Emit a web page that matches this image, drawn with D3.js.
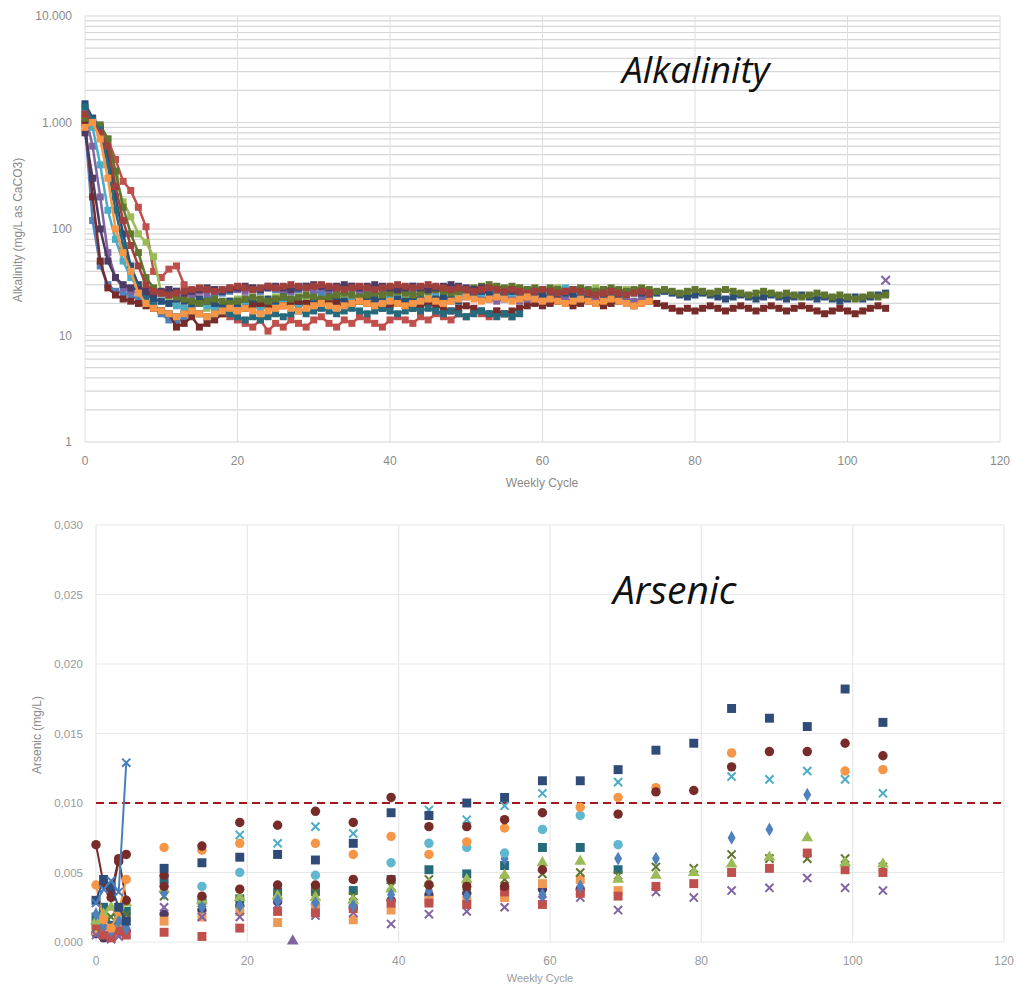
<!DOCTYPE html>
<html>
<head>
<meta charset="utf-8">
<script src="https://cdn.jsdelivr.net/npm/d3@7"></script>
<style>
  body { margin: 0; background: #fff; }
  svg { display: block; font-family: "Liberation Sans", Arial, sans-serif; }
</style>
</head>
<body>
<svg id="chart" width="1016" height="984"></svg>
<script>
// ---- alkalinity data (mg/L as CaCO3), one value per weekly cycle starting at cycle 0
var alkColors = ["#4F81BD", "#C0504D", "#9BBB59", "#8064A2", "#4BACC6",
                 "#2C4D75", "#772C2A", "#5F7530", "#276A7C", "#4D3B62", "#A0403C", "#F79646"];

var alkBlue = [950, 120, 45, 30, 26, 25, 24, 22, 20, 18, 16, 14, 13, 15, 18, 20, 22, 24, 25, 26, 27, 28, 27, 26, 28, 27, 25, 26, 27, 28, 26, 25, 27, 26, 28, 27, 26, 25, 27, 28, 26, 27, 25, 26, 27, 26, 28, 27, 26, 25, 27, 26, 28, 27, 26, 25, 24, 26, 25, 27, 26, 25, 24, 26, 25, 27, 26, 25, 24, 26, 25, 24, 26, 25, 24];
var alkRed = [1000, 950, 900, 700, 450, 280, 230, 160, 105, 40, 35, 42, 45, 30, 25, 22, 20, 18, 16, 15, 14, 13, 12, 14, 11, 13, 12, 14, 13, 12, 14, 15, 13, 12, 14, 13, 15, 14, 13, 12, 14, 15, 14, 13, 15, 14, 16, 15, 14, 16, 15, 17, 16, 15, 17, 16, 15];
var alkGreen = [1050, 950, 800, 600, 300, 180, 130, 90, 75, 55, 25, 22, 20, 18, 17, 16, 18, 19, 20, 21, 22, 21, 20, 22, 21, 23, 22, 21, 22, 23, 22, 21, 23, 22, 24, 23, 22, 21, 23, 22, 24, 23, 22, 21, 22, 23, 21, 22, 23, 24, 25, 26, 27, 28, 27, 26, 27, 28, 27, 26, 25, 27, 28, 26, 27, 25, 26, 28, 27, 26, 25, 27, 26, 25, 24];
var alkPurple = [1200, 600, 200, 60, 35, 28, 26, 25, 24, 26, 25, 27, 26, 25, 24, 26, 25, 27, 26, 28, 27, 26, 28, 27, 29, 28, 27, 26, 28, 29, 27, 28, 26, 27, 28, 29, 27, 26, 28, 27, 26, 28, 27, 29, 28, 27, 26, 27, 28, 26, 25, 24, 23, 22, 21, 22, 23, 21, 22, 23, 22, 21, 23, 22, 21, 22, 23, 22, 21, 22, 23, 22, 21, 22, 23];
var alkAqua = [1300, 900, 400, 150, 80, 50, 35, 28, 24, 22, 21, 20, 19, 18, 19, 20, 19, 18, 19, 20, 21, 20, 19, 18, 19, 20, 21, 20, 19, 20, 21, 22, 21, 20, 21, 22, 21, 20, 21, 22, 23, 22, 21, 20, 21, 22, 23, 22, 21, 22, 23, 24, 25, 26, 27, 26, 25, 26, 27, 26, 25, 26, 27, 28, 27, 26, 25, 26, 27, 26, 25, 24, 25, 26, 25];
var alkOrange = [900, 1000, 700, 300, 100, 60, 40, 25, 20, 18, 17, 16, 15, 16, 17, 16, 15, 16, 17, 18, 17, 18, 17, 16, 17, 18, 19, 18, 17, 18, 19, 20, 19, 18, 19, 20, 21, 20, 19, 20, 21, 20, 19, 20, 21, 22, 21, 20, 21, 22, 23, 22, 21, 22, 23, 22, 21, 22, 23, 22, 21, 22, 21, 20, 21, 22, 21, 20, 21, 22, 21, 20, 19, 20, 21];
var alkNavy = [1500, 1100, 900, 500, 200, 90, 45, 30, 25, 22, 21, 20, 22, 21, 20, 22, 21, 20, 19, 21, 20, 22, 21, 20, 22, 21, 23, 22, 21, 20, 22, 21, 23, 22, 21, 20, 22, 23, 22, 21, 20, 22, 21, 23, 22, 21, 22, 23, 22, 21, 24, 25, 26, 25, 24, 25, 26, 25, 24, 25, 24, 23, 24, 25, 24, 23, 24, 25, 24, 23, 24, 25, 26, 25, 24, 25, 26, 25, 24, 23, 24, 25, 24, 23, 22, 23, 24, 23, 22, 23, 24, 23, 22, 23, 24, 23, 22, 23, 22, 21, 22, 23, 22, 23, 24, 25];
var alkDarkRed = [1000, 200, 50, 28, 24, 22, 21, 20, 19, 18, 17, 16, 12, 13, 15, 12, 13, 14, 16, 18, 17, 18, 19, 20, 19, 18, 19, 20, 21, 20, 19, 20, 21, 20, 19, 20, 21, 20, 19, 18, 19, 20, 19, 18, 19, 20, 19, 18, 17, 18, 19, 18, 17, 16, 17, 16, 17, 18, 19, 20, 19, 20, 21, 20, 19, 20, 21, 20, 19, 20, 21, 20, 19, 20, 21, 20, 19, 18, 17, 18, 17, 18, 19, 18, 17, 18, 19, 18, 17, 18, 19, 18, 17, 18, 19, 18, 17, 16, 17, 18, 17, 16, 17, 18, 19, 18];
var alkDarkGreen = [1100, 1000, 950, 700, 350, 160, 90, 60, 35, 28, 25, 24, 23, 22, 21, 20, 21, 22, 21, 20, 21, 22, 23, 22, 21, 22, 23, 22, 23, 24, 23, 22, 23, 24, 25, 24, 23, 24, 25, 24, 25, 26, 25, 24, 25, 26, 27, 26, 25, 26, 27, 28, 29, 30, 29, 28, 29, 28, 27, 28, 27, 28, 27, 26, 27, 28, 27, 26, 27, 28, 27, 26, 27, 28, 27, 26, 27, 26, 25, 26, 27, 26, 25, 26, 27, 26, 25, 24, 25, 26, 25, 24, 25, 24, 23, 24, 25, 24, 23, 24, 23, 22, 23, 24, 23, 24];
var alkDarkTeal = [1400, 1050, 850, 400, 150, 70, 40, 28, 22, 19, 17, 16, 15, 16, 17, 16, 15, 16, 17, 16, 15, 14, 15, 14, 15, 16, 15, 16, 17, 16, 17, 18, 17, 16, 17, 18, 17, 16, 17, 18, 17, 16, 17, 18, 17, 18, 17, 16, 17, 16, 15, 16, 17, 16, 15, 16, 15, 16];
var alkDarkPurple = [800, 300, 100, 50, 35, 30, 28, 27, 26, 25, 26, 27, 26, 25, 26, 27, 28, 27, 26, 27, 28, 29, 28, 27, 28, 29, 28, 27, 28, 29, 30, 29, 28, 29, 30, 29, 28, 29, 30, 29, 28, 27, 28, 29, 28, 27, 28, 29, 30, 29, 28, 27, 28];
var alkBrick = [1200, 1000, 800, 600, 250, 120, 70, 45, 30, 26, 25, 24, 25, 26, 27, 28, 27, 26, 27, 28, 29, 28, 27, 28, 29, 28, 29, 30, 29, 28, 29, 30, 29, 28, 27, 28, 29, 28, 27, 28, 29, 30, 29, 28, 29, 30, 29, 28, 27, 28, 27, 26, 27, 28, 27, 26, 27, 26, 25, 26, 27, 26, 25, 26, 27, 26, 25, 24, 25, 26, 25, 24, 25, 26, 25];
var alkLastPoint = [{ cycle: 105, value: 33 }];

// orange last so its band stays on top, as in the original
var alkSeries = [alkBlue, alkRed, alkGreen, alkPurple, alkAqua,
                 alkNavy, alkDarkRed, alkDarkGreen, alkDarkTeal, alkDarkPurple, alkBrick, alkOrange];
var alkYTicks = [1, 10, 100, 1000, 10000];
var xTicks = [0, 20, 40, 60, 80, 100, 120];

// ---- arsenic data (mg/L), sampled cycles
var arsCycles = [0, 1, 2, 3, 4, 9, 14, 19, 24, 29, 34, 39, 44, 49, 54, 59, 64, 69, 74, 79, 84, 89, 94, 99, 104];
var arsNavy = [0.0030, 0.0045, 0.0040, 0.0025, 0.0015, 0.0053, 0.0057, 0.0061, 0.0063, 0.0059, 0.0071, 0.0093, 0.0091, 0.0100, 0.0104, 0.0116, 0.0116, 0.0124, 0.0138, 0.0143, 0.0168, 0.0161, 0.0155, 0.0182, 0.0158];
var arsDarkRed = [0.0070, 0.0042, 0.0032, 0.0058, 0.0063, 0.0048, 0.0069, 0.0086, 0.0084, 0.0094, 0.0086, 0.0104, 0.0083, 0.0083, 0.0088, 0.0093, null, 0.0092, 0.0108, 0.0109, 0.0126, 0.0137, 0.0137, 0.0143, 0.0134];
var arsOrange = [0.0041, 0.0016, 0.0010, 0.0022, 0.0045, 0.0068, 0.0066, 0.0071, null, 0.0071, 0.0063, 0.0076, 0.0063, 0.0072, 0.0082, null, 0.0097, 0.0104, 0.0111, null, 0.0136, null, null, 0.0123, 0.0124];
var arsAquaX = [null, null, null, null, null, null, null, 0.0077, 0.0071, 0.0083, 0.0078, null, 0.0095, 0.0088, 0.0098, 0.0107, null, 0.0115, null, null, 0.0119, 0.0117, 0.0123, 0.0117, 0.0107];
var arsBlueX = [0.0028, 0.0038, 0.0044, 0.0036, 0.0129, null, null, null, null, null, null, null, null, null, null, null, null, null, null, null, null, null, null, null, null];
var arsAquaDot = [null, null, null, null, null, null, 0.0040, 0.0050, null, 0.0048, null, 0.0057, 0.0071, 0.0068, 0.0064, 0.0081, 0.0091, 0.0070, null, null, null, null, null, null, null];
var arsBlue = [0.0020, 0.0012, 0.0008, 0.0015, 0.0010, 0.0035, 0.0025, 0.0026, 0.0030, 0.0028, 0.0026, 0.0034, 0.0037, 0.0033, 0.0060, 0.0034, 0.0040, 0.0060, 0.0060, null, 0.0075, 0.0081, 0.0106, null, null];
var arsGreen = [0.0015, 0.0020, 0.0025, 0.0018, 0.0028, 0.0038, 0.0030, 0.0032, 0.0033, 0.0032, 0.0030, 0.0038, 0.0042, 0.0045, 0.0048, 0.0057, 0.0058, 0.0045, 0.0048, 0.0050, 0.0056, 0.0061, 0.0075, 0.0057, 0.0056];
var arsRed = [0.0012, 0.0005, 0.0003, 0.0008, 0.0005, 0.0007, 0.0004, 0.0010, 0.0022, 0.0021, 0.0024, 0.0028, 0.0028, 0.0027, 0.0036, 0.0027, 0.0035, 0.0033, 0.0040, 0.0042, 0.0050, 0.0053, 0.0064, 0.0052, 0.0050];
var arsPurpleX = [0.0005, 0.0008, 0.0002, 0.0004, 0.0006, 0.0025, 0.0018, 0.0018, 0.0027, 0.0019, 0.0021, 0.0013, 0.0020, 0.0022, 0.0025, 0.0030, 0.0032, 0.0023, 0.0036, 0.0032, 0.0037, 0.0039, 0.0046, 0.0039, 0.0037];
var arsDarkGreenX = [0.0010, 0.0022, 0.0018, 0.0025, 0.0020, 0.0033, 0.0028, 0.0028, 0.0034, 0.0036, 0.0033, 0.0040, 0.0045, 0.0040, 0.0045, 0.0049, 0.0050, 0.0048, 0.0054, 0.0053, 0.0063, 0.0060, 0.0060, 0.0060, 0.0054];
var arsDarkTeal = [0.0018, 0.0025, 0.0012, 0.0020, 0.0022, 0.0045, 0.0030, 0.0031, 0.0036, 0.0037, 0.0037, 0.0045, 0.0052, 0.0049, 0.0055, 0.0068, 0.0068, 0.0052, null, null, null, null, null, null, null];
var arsDarkRed2 = [null, null, 0.0035, 0.0060, 0.0030, 0.0040, 0.0033, 0.0038, 0.0041, 0.0041, 0.0045, 0.0045, 0.0041, 0.0040, 0.0040, 0.0052, null, null, null, null, null, null, null, null, null];
var arsOrange2 = [0.0008, 0.0012, 0.0006, 0.0010, 0.0018, 0.0015, 0.0018, 0.0022, 0.0014, 0.0025, 0.0016, 0.0023, 0.0030, 0.0030, 0.0032, 0.0042, 0.0045, 0.0037, null, null, null, null, null, null, null];
var arsDarkPurple = [0.0006, 0.0003, 0.0010, 0.0012, 0.0008, 0.0020, 0.0023, 0.0026, 0.0029, 0.0027, 0.0025, 0.0030, 0.0034, 0.0035, 0.0038, 0.0038, 0.0038, null, null, null, null, null, null, null, null];
var arsTriangleLone = [{ cycle: 26, value: 0.0000 }];

var arsSeries = [
  { values: arsDarkPurple, color: "#4D3B62", shape: "circle" },
  { values: arsOrange2, color: "#EE9A55", shape: "square" },
  { values: arsDarkTeal, color: "#276A7C", shape: "square" },
  { values: arsDarkGreenX, color: "#5F7530", shape: "x" },
  { values: arsPurpleX, color: "#8064A2", shape: "x" },
  { values: arsRed, color: "#C0504D", shape: "square" },
  { values: arsGreen, color: "#9BBB59", shape: "triangle" },
  { values: arsBlue, color: "#4F81BD", shape: "diamond" },
  { values: arsDarkRed2, color: "#772C2A", shape: "circle" },
  { values: arsAquaDot, color: "#5FB8D0", shape: "circle" },
  { values: arsAquaX, color: "#4BACC6", shape: "x" },
  { values: arsOrange, color: "#F79646", shape: "circle" },
  { values: arsDarkRed, color: "#772C2A", shape: "circle" },
  { values: arsNavy, color: "#2F4B78", shape: "square" },
  { values: arsBlueX, color: "#4A7EBB", shape: "x" }
];
var arsYTicks = [0, 0.005, 0.010, 0.015, 0.020, 0.025, 0.030];
var arsLimit = 0.010;

var locale = d3.formatLocale({ decimal: ",", thousands: ".", grouping: [3], currency: ["", " €"] });
var fmtThousands = locale.format(",");
var fmt3 = locale.format(".3f");

var svg = d3.select("#chart");
svg.append("rect").attr("width", 1016).attr("height", 984).attr("fill", "#fff");

var tickColor = "#8a8a8a";

// ================= top: alkalinity =================
var topX = d3.scaleLinear().domain([0, 120]).range([85, 1000]);
var topY = d3.scaleLog().domain([1, 10000]).range([442, 16]);

var gTop = svg.append("g");

// minor + major horizontal gridlines
var gridVals = [];
[1, 10, 100, 1000].forEach(function (d) {
  for (var k = 1; k < 10; k++) gridVals.push(k * d);
});
gridVals.push(10000);

gTop.append("g").selectAll("line").data(gridVals).enter().append("line")
  .attr("x1", topX(0)).attr("x2", topX(120))
  .attr("y1", d => topY(d)).attr("y2", d => topY(d))
  .attr("stroke", "#d6d6d6").attr("stroke-width", 1.2);

gTop.append("g").selectAll("line").data(xTicks).enter().append("line")
  .attr("x1", d => topX(d)).attr("x2", d => topX(d))
  .attr("y1", topY(10000)).attr("y2", topY(1))
  .attr("stroke", "#dedede").attr("stroke-width", 1);

gTop.append("g").selectAll("text").data(alkYTicks).enter().append("text")
  .attr("x", 72).attr("y", d => topY(d)).attr("dy", "0.35em")
  .attr("text-anchor", "end").attr("font-size", 12).attr("fill", tickColor)
  .text(d => fmtThousands(d));

gTop.append("g").selectAll("text").data(xTicks).enter().append("text")
  .attr("x", d => topX(d)).attr("y", 465)
  .attr("text-anchor", "middle").attr("font-size", 12).attr("fill", tickColor)
  .text(d => d);

gTop.append("text").attr("x", 542).attr("y", 487).attr("text-anchor", "middle")
  .attr("font-size", 12).attr("fill", tickColor).text("Weekly Cycle");

gTop.append("text").attr("transform", "translate(22,230) rotate(-90)")
  .attr("text-anchor", "middle").attr("font-size", 12).attr("fill", tickColor)
  .text("Alkalinity (mg/L as CaCO3)");

var alkLine = d3.line().x((d, i) => topX(i)).y(d => topY(d));

alkSeries.forEach(function (vals, s) {
  var g = gTop.append("g");
  g.append("path").datum(vals).attr("d", alkLine)
    .attr("fill", "none").attr("stroke", alkColors[s]).attr("stroke-width", 2.5);
  g.selectAll("rect").data(vals).enter().append("rect")
    .attr("x", (d, i) => topX(i) - 3.5).attr("y", d => topY(d) - 3.5)
    .attr("width", 7).attr("height", 7).attr("fill", alkColors[s]);
});

gTop.selectAll(".lastx").data(alkLastPoint).enter().append("path")
  .attr("d", d3.symbol().type(d3.symbolX).size(50))
  .attr("transform", p => "translate(" + topX(p.cycle) + "," + topY(p.value) + ")")
  .attr("fill", "none").attr("stroke", "#8064A2").attr("stroke-width", 2);

gTop.append("text").attr("x", 622).attr("y", 83)
  .attr("font-family", "'Open Sans', sans-serif").attr("font-style", "italic")
  .attr("font-size", 37).attr("fill", "#111").text("Alkalinity");

// ================= bottom: arsenic =================
var botX = d3.scaleLinear().domain([0, 120]).range([96, 1004]);
var botY = d3.scaleLinear().domain([0, 0.030]).range([942, 525]);

var gBot = svg.append("g");

gBot.append("g").selectAll("line").data(arsYTicks).enter().append("line")
  .attr("x1", botX(0)).attr("x2", botX(120))
  .attr("y1", d => botY(d)).attr("y2", d => botY(d))
  .attr("stroke", "#e8e8e8").attr("stroke-width", 1.2);

gBot.append("g").selectAll("line").data(xTicks).enter().append("line")
  .attr("x1", d => botX(d)).attr("x2", d => botX(d))
  .attr("y1", botY(0.030)).attr("y2", botY(0))
  .attr("stroke", "#e8e8e8").attr("stroke-width", 1.2);

gBot.append("g").selectAll("text").data(arsYTicks).enter().append("text")
  .attr("x", 83).attr("y", d => botY(d)).attr("dy", "0.35em")
  .attr("text-anchor", "end").attr("font-size", 11.5).attr("fill", "#9a9a9a")
  .text(d => fmt3(d));

gBot.append("g").selectAll("text").data(xTicks).enter().append("text")
  .attr("x", d => botX(d)).attr("y", 965)
  .attr("text-anchor", "middle").attr("font-size", 12).attr("fill", "#9a9a9a")
  .text(d => d);

gBot.append("text").attr("x", 540).attr("y", 982).attr("text-anchor", "middle")
  .attr("font-size", 11).attr("fill", "#9a9a9a").text("Weekly Cycle");

gBot.append("text").attr("transform", "translate(41,735) rotate(-90)")
  .attr("text-anchor", "middle").attr("font-size", 12).attr("fill", "#8a8a8a")
  .text("Arsenic (mg/L)");

gBot.append("line")
  .attr("x1", botX(0)).attr("x2", botX(120))
  .attr("y1", botY(arsLimit)).attr("y2", botY(arsLimit))
  .attr("stroke", "#A0191E").attr("stroke-width", 2).attr("stroke-dasharray", "8,5");

var shapes = {
  square: d3.symbol().type(d3.symbolSquare).size(80),
  circle: d3.symbol().type(d3.symbolCircle).size(70),
  diamond: d3.symbol().type(d3.symbolDiamond).size(55),
  triangle: d3.symbol().type(d3.symbolTriangle).size(60),
  x: d3.symbol().type(d3.symbolX).size(45)
};

// the first weeks (cycles 0-4) are joined by lines
var earlyLine = d3.line()
  .defined(d => d.v !== null)
  .x(d => botX(d.c)).y(d => botY(d.v));

arsSeries.forEach(function (s) {
  var pts = s.values.map((v, i) => ({ c: arsCycles[i], v: v }));
  gBot.append("path").datum(pts.slice(0, 5)).attr("d", earlyLine)
    .attr("fill", "none").attr("stroke", s.color).attr("stroke-width", 2);
  gBot.append("g").selectAll("path").data(pts.filter(p => p.v !== null)).enter().append("path")
    .attr("d", shapes[s.shape])
    .attr("transform", p => "translate(" + botX(p.c) + "," + botY(p.v) + ")")
    .attr("fill", s.shape === "x" ? "none" : s.color)
    .attr("stroke", s.shape === "x" ? s.color : "none")
    .attr("stroke-width", 2);
});

gBot.selectAll(".lone").data(arsTriangleLone).enter().append("path")
  .attr("d", shapes.triangle)
  .attr("transform", p => "translate(" + botX(p.cycle) + "," + (botY(p.value) - 1) + ")")
  .attr("fill", "#8064A2");

gBot.append("text").attr("x", 613).attr("y", 604)
  .attr("font-family", "'Open Sans', sans-serif").attr("font-style", "italic")
  .attr("font-size", 39).attr("fill", "#111").text("Arsenic");
</script>
</body>
</html>
